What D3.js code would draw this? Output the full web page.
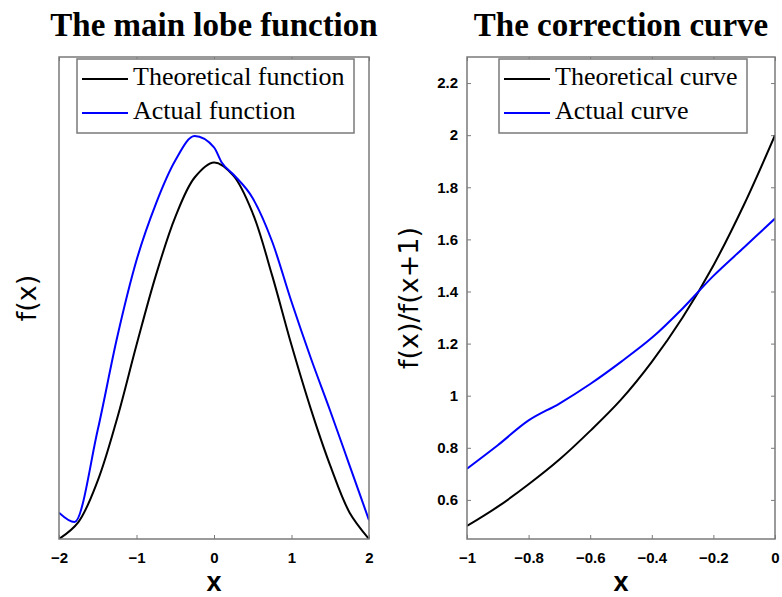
<!DOCTYPE html>
<html>
<head>
<meta charset="utf-8">
<script src="https://cdn.jsdelivr.net/npm/d3@7"></script>
<style>
  body { margin: 0; background: #fff; }
  svg { display: block; }
</style>
</head>
<body>
<div id="chart"></div>
<script>
// Left panel: main lobe function (x from -2 to 2)
const lobeX = [-2, -1.75, -1.5, -1.25, -1, -0.75, -0.5, -0.25, 0, 0.25, 0.5, 0.75, 1, 1.25, 1.5, 1.75, 2];
const lobeTheory = [0, 0.045, 0.155, 0.32, 0.515, 0.70, 0.855, 0.96, 1.0, 0.965, 0.865, 0.70, 0.515, 0.345, 0.195, 0.07, 0];
const lobeActualX = [-2, -1.8, -1.5, -1.25, -1, -0.75, -0.5, -0.25, 0, 0.1, 0.25, 0.5, 0.75, 1, 1.25, 1.5, 1.75, 2];
const lobeActual = [0.07, 0.045, 0.29, 0.535, 0.74, 0.89, 1.005, 1.07, 1.04, 1.0, 0.968, 0.905, 0.79, 0.63, 0.48, 0.34, 0.195, 0.05];
const lobeTicks = [-2, -1, 0, 1, 2];

// Right panel: correction curve f(x)/f(x+1)
const corrX = [-1, -0.9, -0.8, -0.7, -0.6, -0.5, -0.4, -0.3, -0.2, -0.1, 0];
const corrTheory = [0.5, 0.574, 0.66, 0.755, 0.865, 0.985, 1.13, 1.30, 1.50, 1.735, 2.0];
const corrActual = [0.72, 0.81, 0.905, 0.97, 1.045, 1.13, 1.222, 1.335, 1.46, 1.57, 1.68];
const corrXTicks = [-1, -0.8, -0.6, -0.4, -0.2, 0];
const corrYTicks = [0.6, 0.8, 1, 1.2, 1.4, 1.6, 1.8, 2, 2.2];

const W = 782, H = 597;
const svg = d3.select('#chart').append('svg')
    .attr('width', W)
    .attr('height', H);

const axisColor = '#7a7a7a';
const serif = '"Liberation Serif", "DejaVu Serif", serif';
const sans = '"Liberation Sans", Arial, sans-serif';
const smooth = d3.curveCatmullRom.alpha(0.5);

function drawPanel(opt) {
    const x = d3.scaleLinear().domain(opt.xDomain).range([opt.left, opt.right]);
    const y = d3.scaleLinear().domain(opt.yDomain).range([opt.bottom, opt.top]);
    const g = svg.append('g');

    const clipId = 'clip-' + opt.id;
    svg.append('clipPath').attr('id', clipId)
        .append('rect')
        .attr('x', opt.left).attr('y', opt.top)
        .attr('width', opt.right - opt.left)
        .attr('height', opt.bottom - opt.top);

    // Axes: ticks point inward, on all four sides
    const bottomAxis = g.append('g')
        .attr('transform', `translate(0,${opt.bottom})`)
        .call(d3.axisBottom(x).tickValues(opt.xTicks).tickSizeInner(-4).tickSizeOuter(0)
            .tickFormat(d3.format('')));
    g.append('g')
        .attr('transform', `translate(0,${opt.top})`)
        .call(d3.axisTop(x).tickValues(opt.xTicks).tickSizeInner(-4).tickSizeOuter(0)
            .tickFormat(''));
    bottomAxis.selectAll('text')
        .attr('dy', 0)
        .attr('y', 24);

    if (opt.yTicks) {
        const leftAxis = g.append('g')
            .attr('transform', `translate(${opt.left},0)`)
            .call(d3.axisLeft(y).tickValues(opt.yTicks).tickSizeInner(-4).tickSizeOuter(0)
                .tickFormat(d3.format('')));
        leftAxis.selectAll('text').attr('x', -9);
        g.append('g')
            .attr('transform', `translate(${opt.right},0)`)
            .call(d3.axisRight(y).tickValues(opt.yTicks).tickSizeInner(-4).tickSizeOuter(0)
                .tickFormat(''));
    }

    g.selectAll('.domain').remove();
    g.selectAll('.tick line').attr('stroke', axisColor).attr('stroke-width', 1);
    g.selectAll('.tick text')
        .style('font-family', sans)
        .style('font-weight', 'bold')
        .style('font-size', '15px')
        .attr('fill', '#000');

    // Curves
    const line = (xs, ys, curve) => d3.line()
        .x((d, i) => x(xs[i]))
        .y(d => y(d))
        .curve(curve)(ys);

    const curves = svg.append('g').attr('clip-path', `url(#${clipId})`);
    curves.append('path')
        .attr('d', line(opt.theoryX, opt.theory, smooth))
        .attr('fill', 'none')
        .attr('stroke', '#000')
        .attr('stroke-width', 2);
    curves.append('path')
        .attr('d', line(opt.actualX, opt.actual, opt.actualCurve || smooth))
        .attr('fill', 'none')
        .attr('stroke', '#0000ff')
        .attr('stroke-width', 2);

    // Plot box
    svg.append('rect')
        .attr('x', opt.left).attr('y', opt.top)
        .attr('width', opt.right - opt.left)
        .attr('height', opt.bottom - opt.top)
        .attr('fill', 'none')
        .attr('stroke', axisColor)
        .attr('stroke-width', 1.5);

    // Legend
    const lg = svg.append('g').attr('transform', `translate(${opt.legend.x},${opt.legend.y})`);
    lg.append('rect')
        .attr('width', opt.legend.w).attr('height', 74)
        .attr('fill', '#fff')
        .attr('stroke', axisColor)
        .attr('stroke-width', 1.5);
    opt.legend.labels.forEach((label, i) => {
        const yy = 20 + i * 34;
        lg.append('line')
            .attr('x1', 5).attr('x2', 51)
            .attr('y1', yy).attr('y2', yy)
            .attr('stroke', i === 0 ? '#000' : '#0000ff')
            .attr('stroke-width', 2);
        lg.append('text')
            .attr('x', 56).attr('y', yy + 6)
            .style('font-family', serif)
            .style('font-size', '26px')
            .text(label);
    });

    const cx = (opt.left + opt.right) / 2;

    // Title
    svg.append('text')
        .attr('x', cx).attr('y', 36)
        .attr('text-anchor', 'middle')
        .style('font-family', serif)
        .style('font-weight', 'bold')
        .style('font-size', '33px')
        .text(opt.title);

    // x label
    svg.append('text')
        .attr('x', cx).attr('y', 591)
        .attr('text-anchor', 'middle')
        .style('font-family', sans)
        .style('font-weight', 'bold')
        .style('font-size', '27px')
        .text('x');

    // y label
    svg.append('text')
        .attr('transform', `translate(${opt.yLabelX},${(opt.top + opt.bottom) / 2}) rotate(-90)`)
        .attr('text-anchor', 'middle')
        .style('font-family', '"DejaVu Sans", sans-serif')
        .style('font-size', '27px')
        .text(opt.yLabel);
}

drawPanel({
    id: 'lobe',
    left: 59, right: 369, top: 57, bottom: 539,
    xDomain: [-2, 2], yDomain: [0, 1.28],
    xTicks: lobeTicks, yTicks: null,
    theoryX: lobeX, theory: lobeTheory,
    actualX: lobeActualX, actual: lobeActual,
    actualCurve: d3.curveMonotoneX,
    title: 'The main lobe function',
    yLabel: 'f(x)', yLabelX: 36,
    legend: { x: 77, y: 59, w: 277, labels: ['Theoretical function', 'Actual function'] }
});

drawPanel({
    id: 'corr',
    left: 467, right: 775, top: 57, bottom: 539,
    xDomain: [-1, 0], yDomain: [0.45, 2.3],
    xTicks: corrXTicks, yTicks: corrYTicks,
    theoryX: corrX, theory: corrTheory,
    actualX: corrX, actual: corrActual,
    title: 'The correction curve',
    yLabel: 'f(x)/f(x+1)', yLabelX: 418,
    legend: { x: 499, y: 59, w: 248, labels: ['Theoretical curve', 'Actual curve'] }
});
</script>
</body>
</html>
